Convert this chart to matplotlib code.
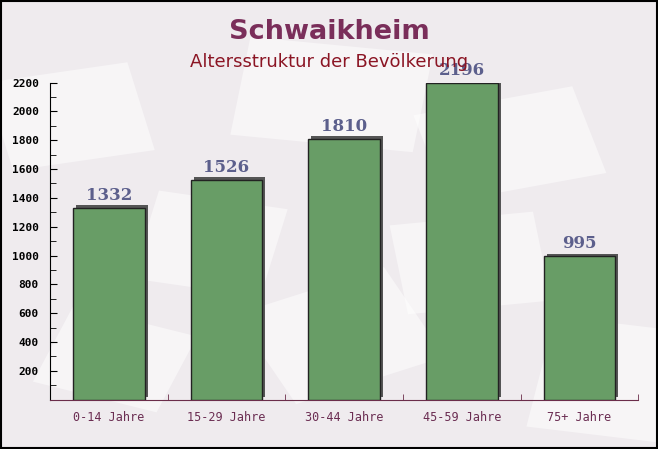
import matplotlib.pyplot as plt
import matplotlib.transforms as mtransforms
from matplotlib.patches import Rectangle

# data
categories = ['0-14 Jahre', '15-29 Jahre', '30-44 Jahre', '45-59 Jahre', '75+ Jahre']
values = [1332, 1526, 1810, 2196, 995]
yticks = [200, 400, 600, 800, 1000, 1200, 1400, 1600, 1800, 2000, 2200]

BG = '#efebee'
BAR = '#689d66'

fig = plt.figure(figsize=(6.58, 4.49), dpi=100, facecolor=BG)

# background layer: faint envelope-like shapes + frame
bg = fig.add_axes([0, 0, 1, 1], zorder=-1)
bg.set_xlim(0, 1)
bg.set_ylim(0, 1)
bg.axis('off')
for (x0, y0, w, h, a) in [(0.02, 0.62, 0.22, 0.2, 12), (0.35, 0.70, 0.28, 0.22, -8),
                          (0.68, 0.55, 0.25, 0.2, 15), (0.05, 0.15, 0.2, 0.18, -20),
                          (0.45, 0.10, 0.25, 0.22, 25), (0.80, 0.05, 0.2, 0.25, -10),
                          (0.62, 0.30, 0.22, 0.2, 8), (0.20, 0.38, 0.2, 0.2, -12)]:
    bg.add_patch(Rectangle((x0, y0), w, h, angle=a, facecolor='white',
                           alpha=0.5, edgecolor='none'))
bg.add_patch(Rectangle((0.0015, 0.002), 0.997, 0.996, facecolor='none',
                       edgecolor='black', linewidth=1.5))

ax = fig.add_axes([0.076, 0.110, 0.894, 0.706])
ax.set_facecolor('none')

x = list(range(len(categories)))
shadow = ax.transData + mtransforms.ScaledTranslation(3 / 100, 2.5 / 100, fig.dpi_scale_trans)
ax.bar(x, values, width=0.61, color='#555555', transform=shadow, zorder=2)
ax.bar(x, values, width=0.61, color=BAR, edgecolor='#222222', linewidth=1, zorder=3)

for xi, v in zip(x, values):
    ax.annotate(str(v), (xi, v), xytext=(0, 9), textcoords='offset points',
                ha='center', va='center', fontsize=12, fontweight='bold',
                family='DejaVu Serif', color='#5c5f8c', zorder=4)

ax.set_xlim(-0.5, 4.5)
ax.set_ylim(0, 2200)
ax.set_yticks(yticks)
ax.set_yticks(range(100, 2200, 200), minor=True)
ax.set_yticklabels([str(t) for t in yticks], family='DejaVu Sans Mono',
                   fontweight='bold', fontsize=8, color='black')
ax.tick_params(axis='y', which='major', direction='in', length=5, pad=8, color='black')
ax.tick_params(axis='y', which='minor', direction='in', length=4, color='black')

ax.set_xticks(x)
ax.set_xticklabels(categories, family='DejaVu Sans Mono', fontsize=8.5, color='#6b2d52')
ax.set_xticks([0.5, 1.5, 2.5, 3.5, 4.5], minor=True)
ax.tick_params(axis='x', which='major', length=0, pad=8)
ax.tick_params(axis='x', which='minor', direction='in', length=4, color='#6b2d4a')

for s in ['top', 'right']:
    ax.spines[s].set_visible(False)
ax.spines['left'].set_color('black')
ax.spines['bottom'].set_color('#6b2d4a')

fig.text(0.5, 0.928, 'Schwaikheim', ha='center', va='center', fontsize=19.5,
         fontweight='bold', color='#7a2e5a')
fig.text(0.5, 0.862, 'Altersstruktur der Bevölkerung', ha='center', va='center',
         fontsize=13, color='#8b1524')

fig.savefig('out.png', dpi=100, facecolor=BG)
